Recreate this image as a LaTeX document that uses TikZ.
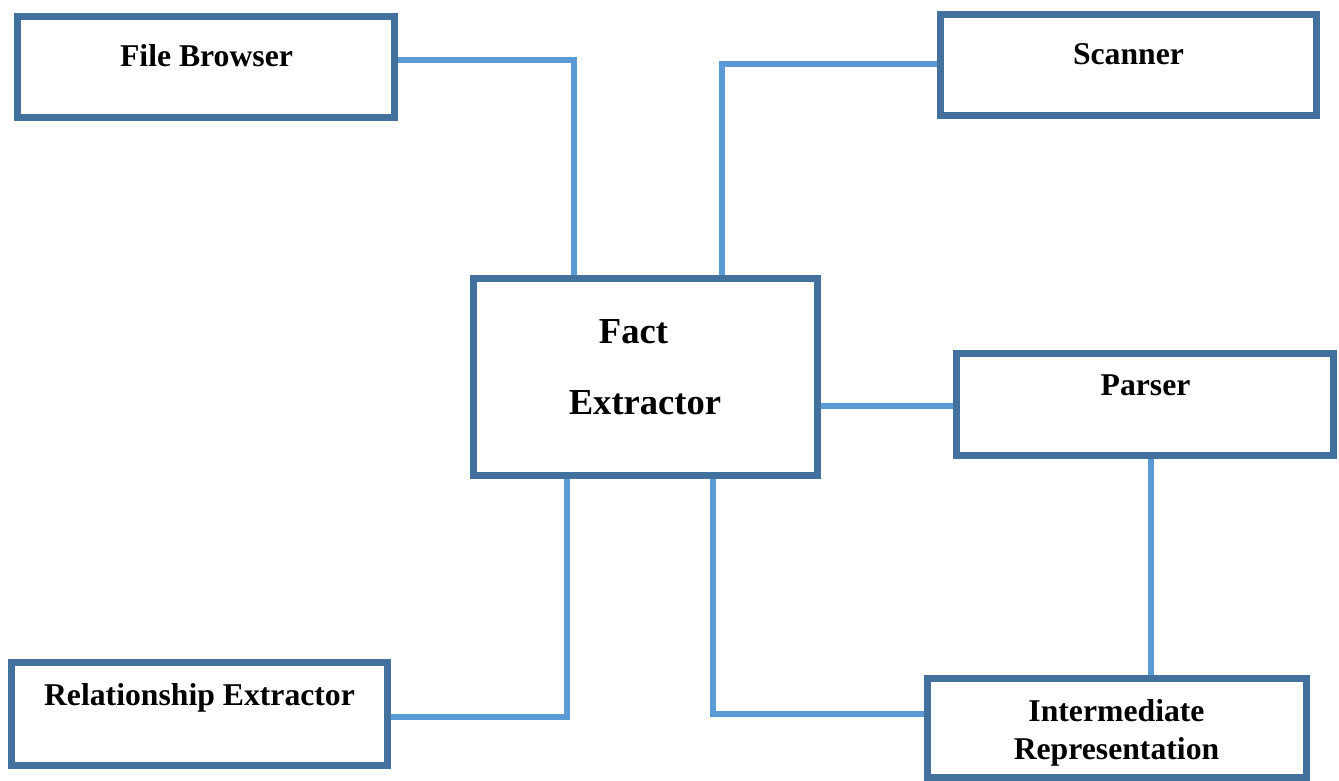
\documentclass[tikz,border=0pt]{standalone}
\usepackage{fontspec}
\setmainfont{Liberation Serif}
\usetikzlibrary{calc}
\definecolor{boxline}{HTML}{41719C}
\definecolor{linkline}{HTML}{5B9BD5}
\pgfdeclarelayer{background}
\pgfsetlayers{background,main}
\begin{document}
\begin{tikzpicture}[x=0.5pt,y=-0.5pt,
  block/.style={draw=boxline,line width=3.5pt,fill=white,inner sep=0pt,outer sep=0pt},
  label/.style={anchor=base,inner sep=0pt,font=\fontsize{15.85pt}{18pt}\selectfont\bfseries},
  biglabel/.style={anchor=base,inner sep=0pt,font=\fontsize{18.3pt}{21pt}\selectfont\bfseries},
  link/.style={draw=linkline,line width=3pt}]
\useasboundingbox (0,0) rectangle (1339,781);

% boxes
\node[block,minimum width=188.5pt,minimum height=50.5pt] (fb) at (206,67) {};
\node[block,minimum width=188pt,minimum height=50.5pt] (sc) at (1128.5,65) {};
\node[block,minimum width=172pt,minimum height=98.5pt] (fe) at (645.5,377) {};
\node[block,minimum width=188.5pt,minimum height=51pt] (pa) at (1145,404.5) {};
\node[block,minimum width=188pt,minimum height=51.5pt] (re) at (199.5,714) {};
\node[block,minimum width=189.5pt,minimum height=49.5pt] (ir) at (1117,728) {};

% labels
\node[label] (fbt) at (206.5,67) {File Browser};
\node[label] (sct) at (1128.5,65) {Scanner};
\node[biglabel] (fet1) at (633.5,343) {Fact};
\node[biglabel] (fet2) at (645,414) {Extractor};
\node[label] (pat) at (1145.5,395) {Parser};
\node[label] (ret) at (199.5,705) {Relationship Extractor};
\node[label] (irt1) at (1116.5,721) {Intermediate};
\node[label] (irt2) at (1116.5,759) {Representation};

% connectors
\begin{pgfonlayer}{background}
\draw[link] ($(fb.east)+(0,-7)$) -| ($(fe.north)+(-71.5,0)$);
\draw[link] ($(sc.west)+(0,-1)$) -| ($(fe.north)+(76.5,0)$);
\draw[link] ($(fe.east)+(0,29)$) coordinate (p1) -- (p1 -| pa.west);
\draw[link] ($(fe.south)+(-78.5,0)$) |- ($(re.east)+(0,3)$);
\draw[link] ($(fe.south)+(67.5,0)$) |- ($(ir.west)+(0,-14)$);
\draw[link] ($(pa.south)+(6,0)$) coordinate (p2) -- (p2 |- ir.north);
\end{pgfonlayer}
\end{tikzpicture}
\end{document}
